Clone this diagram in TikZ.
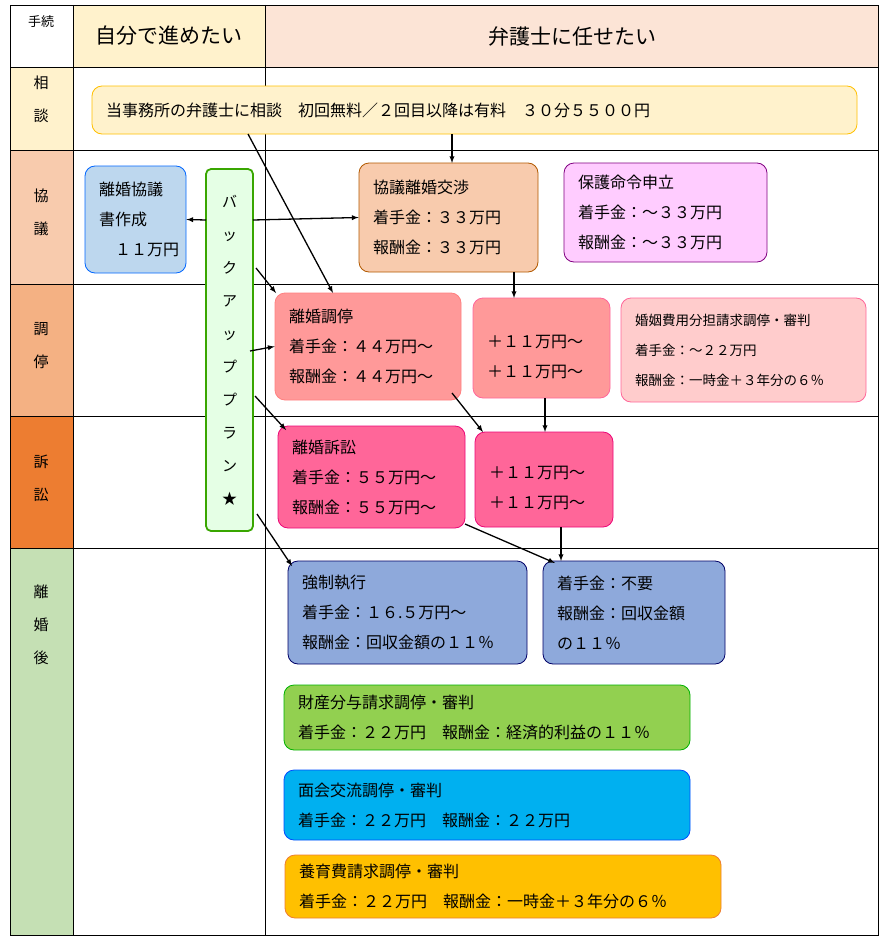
\documentclass[tikz,border=0pt]{standalone}
\usepackage{fontspec}
\setmainfont{Noto Sans CJK JP}
\usepackage{tikz}
\usetikzlibrary{shapes,arrows}
\definecolor{hdyel}{HTML}{FFF2CC}
\definecolor{hdpch}{HTML}{FCE4D6}
\definecolor{rwkyo}{HTML}{F8CBAD}
\definecolor{rwcho}{HTML}{F4B183}
\definecolor{rwsos}{HTML}{ED7D31}
\definecolor{rwgo}{HTML}{C5E0B4}
\definecolor{bxblue}{HTML}{BDD7EE}
\definecolor{bxpink}{HTML}{FFCCFF}
\definecolor{bxsal}{HTML}{FF9999}
\definecolor{bxlpk}{HTML}{FFCCCC}
\definecolor{bxrose}{HTML}{FF6699}
\definecolor{bxnavy}{HTML}{8EA9DB}
\definecolor{bxgrn}{HTML}{92D050}
\definecolor{bxcyan}{HTML}{00B0F0}
\definecolor{bxgold}{HTML}{FFC000}
\tikzstyle{block} = [draw, rounded corners=10pt, line width=0.8pt, inner xsep=14pt,
    inner ysep=0pt, align=left, font=\fontsize{16}{30}\selectfont]
\tikzstyle{small} = [font=\fontsize{13.5}{30}\selectfont]
\tikzstyle{hdr} = [font=\fontsize{21}{24}\selectfont]
\tikzstyle{lbl} = [align=center, font=\fontsize{15}{33}\selectfont]
\tikzstyle{line} = [draw, ->, >=latex, line width=1.3pt]

\begin{document}
\begin{tikzpicture}[x=1pt, y=-1pt]
    \useasboundingbox (0,0) rectangle (892,942);

    % table background
    \fill[hdyel] (73,5) rectangle (265,67);
    \fill[hdpch] (265,5) rectangle (878,67);
    \fill[hdyel] (10,67) rectangle (73,150);
    \fill[rwkyo] (10,150) rectangle (73,284);
    \fill[rwcho] (10,284) rectangle (73,416);
    \fill[rwsos] (10,416) rectangle (73,548);
    \fill[rwgo] (10,548) rectangle (73,935);
    \draw[line width=0.8pt] (10,5) rectangle (878,935);
    \foreach \yy in {67,150,284,416,548}
        \draw[line width=0.8pt] (10,\yy) -- (878,\yy);
    \draw[line width=0.8pt] (73,5) -- (73,935);
    \draw[line width=0.8pt] (265,5) -- (265,935);

    % headers
    \node [font=\fontsize{13}{15}\selectfont] (tetsuzuki) at (41,22) {手続};
    \node [hdr] (jibun) at (169,36) {自分で進めたい};
    \node [hdr] (bengoshi) at (572,36) {弁護士に任せたい};
    \node [lbl] (sodan) at (41,99) {相\\談};
    \node [lbl] (kyogi) at (41,212) {協\\議};
    \node [lbl] (chotei) at (41,346) {調\\停};
    \node [lbl] (sosho) at (41,478) {訴\\訟};
    \node [lbl] (rikongo) at (41,625) {離\\婚\\後};

    % boxes
    \node [block, fill=hdyel, draw=bxgold, text width=737pt, minimum height=48pt]
        (consult) at (474.5,110) {当事務所の弁護士に相談　初回無料／２回目以降は有料　３０分５５００円};
    \node [block, fill=bxblue, draw=blue!60!cyan, text width=73pt, minimum height=107pt]
        (rikyo) at (135.5,219.5) {離婚協議\\書作成\\　１１万円};
    \node [block, fill=green!10!white, draw=green!50!black!70!lime, line width=1.8pt,
        rounded corners=5pt, inner xsep=0pt, text width=47pt, minimum height=362pt, lbl]
        (backup) at (229.5,350) {バ\\ッ\\ク\\ア\\ッ\\プ\\プ\\ラ\\ン\\★};
    \node [block, fill=rwkyo, draw=orange!70!black, text width=151pt, minimum height=109pt]
        (kyogirikon) at (448.5,217.5) {協議離婚交渉\\着手金：３３万円\\報酬金：３３万円};
    \node [block, fill=bxpink, draw=violet, text width=175pt, minimum height=99pt]
        (hogo) at (665.5,212.5) {保護命令申立\\着手金：～３３万円\\報酬金：～３３万円};
    \node [block, fill=bxsal, draw=red!50, text width=158pt, minimum height=107pt]
        (choteibox) at (368,346.5) {離婚調停\\着手金：４４万円～\\報酬金：４４万円～};
    \node [block, fill=bxsal, draw=bxrose, text width=109pt, minimum height=100pt]
        (chotei2) at (541.5,348) {\\＋１１万円～\\＋１１万円～};
    \node [block, small, fill=bxlpk, draw=bxrose, text width=217pt, minimum height=104pt]
        (konin) at (743.5,350) {婚姻費用分担請求調停・審判\\着手金：～２２万円\\報酬金：一時金＋３年分の６％};
    \node [block, fill=bxrose, draw=magenta!80!red, text width=159pt, minimum height=102pt]
        (soshobox) at (371.5,477) {離婚訴訟\\着手金：５５万円～\\報酬金：５５万円～};
    \node [block, fill=bxrose, draw=magenta!80!red, text width=110pt, minimum height=95pt]
        (sosho2) at (544,479.5) {\\＋１１万円～\\＋１１万円～};
    \node [block, fill=bxnavy, draw=blue!40!black, text width=211pt, minimum height=103pt]
        (kyosei) at (407.5,612.5) {強制執行\\着手金：１６.５万円～\\報酬金：回収金額の１１％};
    \node [block, fill=bxnavy, draw=blue!40!black, text width=154pt, minimum height=103pt]
        (kyosei2) at (634,612.5) {着手金：不要\\報酬金：回収金額\\の１１％};
    \node [block, fill=bxgrn, draw=green!70!black, text width=378pt, minimum height=65pt]
        (zaisan) at (487,717.5) {財産分与請求調停・審判\\着手金：２２万円　報酬金：経済的利益の１１％};
    \node [block, fill=bxcyan, draw=blue!70!cyan, text width=378pt, minimum height=70pt]
        (menkai) at (487,805) {面会交流調停・審判\\着手金：２２万円　報酬金：２２万円};
    \node [block, fill=bxgold, draw=rwsos, text width=408pt, minimum height=63pt]
        (yoiku) at (503,886.5) {養育費請求調停・審判\\着手金：２２万円　報酬金：一時金＋３年分の６％};

    % arrows
    \draw [line] (452,134) -- (452,163);
    \draw [line] (248,134) -- (333,293);
    \draw [line] (253,220) -- (kyogirikon.west);
    \draw [line] (206,220) -- (rikyo.east);
    \draw [line] (256,268) -- (276,293);
    \draw [line] (250,351) -- (choteibox.west);
    \draw [line] (255,396) -- (286,430);
    \draw [line] (257,514) -- (292,566);
    \draw [line] (514,272) -- (514,298);
    \draw [line] (452,393) -- (483,432);
    \draw [line] (545,398) -- (545,432);
    \draw [line] (465,524) -- (555,563);
    \draw [line] (561,527) -- (561,561);
\end{tikzpicture}
\end{document}
